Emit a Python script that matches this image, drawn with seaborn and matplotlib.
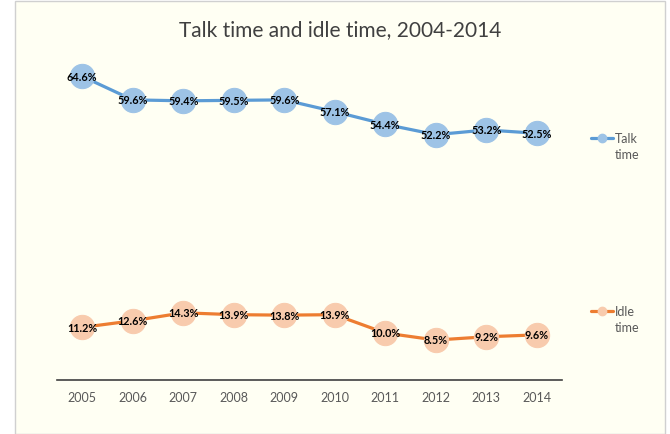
import matplotlib
matplotlib.use("Agg")
import matplotlib.pyplot as plt
import seaborn as sns
import pandas as pd
from matplotlib.patches import Rectangle
from matplotlib.lines import Line2D

years = [2005, 2006, 2007, 2008, 2009, 2010, 2011, 2012, 2013, 2014]
talk = [64.6, 59.6, 59.4, 59.5, 59.6, 57.1, 54.4, 52.2, 53.2, 52.5]
idle = [11.2, 12.6, 14.3, 13.9, 13.8, 13.9, 10.0, 8.5, 9.2, 9.6]
title = "Talk time and idle time, 2004-2014"

sns.set_theme(style="white")
plt.rcParams['font.family'] = ['Lato', 'DejaVu Sans']

W, H = 670, 434
fig = plt.figure(figsize=(W / 100, H / 100), dpi=100)
fig.patch.set_facecolor("white")
bg = "#FFFFF3"
fig.add_artist(Rectangle((15 / W, 0), (665 - 15) / W, (H - 5) / H + 0.01,
                         transform=fig.transFigure, facecolor=bg,
                         edgecolor="#D0D0D0", linewidth=1.0, zorder=0))

ax = fig.add_axes([57 / W, (H - 380) / H, (562 - 57) / W, (380 - 51) / H])
ax.set_facecolor("none")

df = pd.DataFrame({"year": years, "talk": talk, "idle": idle})

talk_line = "#5B9BD5"
talk_mark = "#9DC3E6"
idle_line = "#ED7D31"
idle_mark = "#F8CBAD"

sns.lineplot(data=df, x="year", y="talk", ax=ax, color=talk_line, linewidth=2.3,
             marker="o", markersize=17.5, markerfacecolor=talk_mark,
             markeredgecolor=talk_mark)
sns.lineplot(data=df, x="year", y="idle", ax=ax, color=idle_line, linewidth=2.3,
             marker="o", markersize=17.5, markerfacecolor=idle_mark,
             markeredgecolor=idle_mark)

for x, v in zip(years, talk):
    ax.text(x, v - 0.2, f"{v:.1f}%", ha="center", va="center", fontsize=7.8,
            fontweight="bold", color="black", zorder=5)
for x, v in zip(years, idle):
    ax.text(x, v - 0.2, f"{v:.1f}%", ha="center", va="center", fontsize=7.8,
            fontweight="bold", color="black", zorder=5)

ax.set_xlim(2004.5, 2014.5)
ax.set_ylim(0, 70)
ax.set_xticks(years)
ax.set_xticklabels([str(y) for y in years], color="#595959", fontsize=9)
ax.set_yticks([])
ax.set_xlabel("")
ax.set_ylabel("")
for s in ["top", "right", "left"]:
    ax.spines[s].set_visible(False)
ax.spines["bottom"].set_color("#404040")
ax.spines["bottom"].set_linewidth(1.2)
ax.tick_params(axis="x", length=0, pad=9)

fig.text(340 / W, 1 - 30 / H, title, ha="center", va="center",
         fontsize=15, color="#404040")

# legends
for (ly, lab, lc, mc) in [(138, "Talk\ntime", talk_line, talk_mark),
                          (311, "Idle\ntime", idle_line, idle_mark)]:
    yf = 1 - ly / H
    fig.add_artist(Line2D([591 / W, 613 / W], [yf, yf], transform=fig.transFigure,
                          color=lc, linewidth=2.3))
    fig.add_artist(Line2D([602 / W], [yf], transform=fig.transFigure, marker="o",
                          markersize=6, markerfacecolor=mc, markeredgecolor=mc))
    fig.text(615 / W, yf + 0.012, lab, ha="left", va="top", fontsize=9,
             color="#595959", linespacing=1.45)

fig.savefig("out.png", dpi=100, facecolor=fig.get_facecolor())
